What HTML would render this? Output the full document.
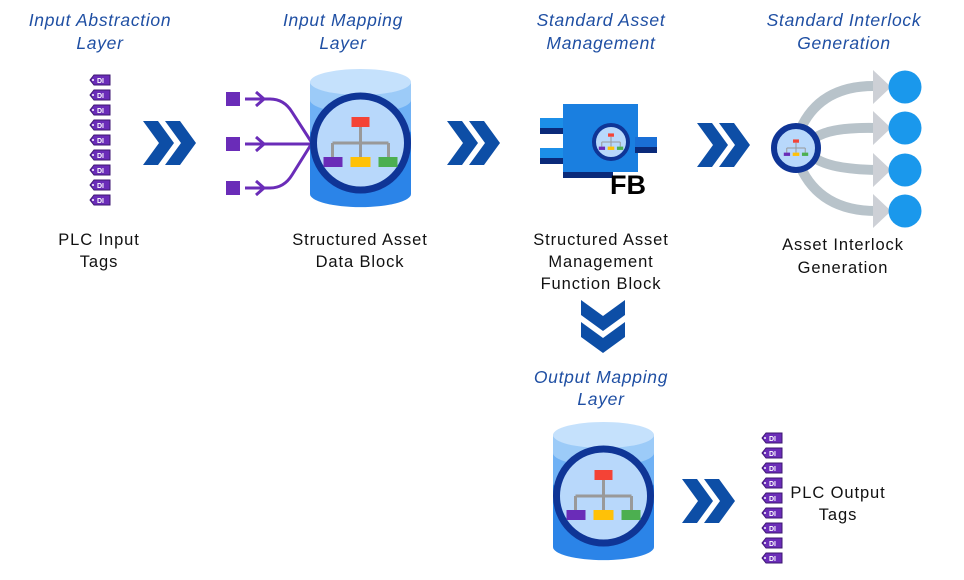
<!DOCTYPE html>
<html><head><meta charset="utf-8"><style>
body{margin:0;width:964px;height:580px;background:#fff;overflow:hidden}
svg{display:block}
.h{font-family:"Liberation Sans",sans-serif;font-style:italic;font-size:17.5px;letter-spacing:0.7px;fill:#1f4fa3;text-anchor:middle}
.l{font-family:"Liberation Sans",sans-serif;font-size:16.5px;letter-spacing:0.9px;fill:#111;text-anchor:middle}
.t{font-family:"Liberation Sans",sans-serif;font-size:7px;font-weight:bold;fill:#fff}
</style></head><body>
<svg width="964" height="580" viewBox="0 0 964 580">
<defs>
<g id="tag"><path d="M2,5 L6,0 H22 V10 H6 Z" fill="#6a2cb8" stroke="#3d1770" stroke-width="1"/><circle cx="5" cy="5" r="1" fill="#fff"/><text class="t" x="9" y="8">DI</text></g>
<g id="chev"><path d="M0,0 H15 L31,22 L15,44 H0 L16,22 Z" fill="#0d4ea6"/><path d="M22,0 H37 L53,22 L37,44 H22 L38,22 Z" fill="#0d4ea6"/></g>
<g id="tree">
<rect x="-9" y="-26" width="18" height="10" fill="#f44336"/>
<path d="M0,-16 V0 M-28,0 H28 M-28,0 V14 M0,0 V14 M28,0 V14" stroke="#999" stroke-width="3" fill="none"/>
<rect x="-37" y="14" width="19" height="10" fill="#6a2cb8"/><rect x="-10" y="14" width="20" height="10" fill="#ffc107"/><rect x="18" y="14" width="19" height="10" fill="#4caf50"/>
</g>
<g id="cyl">
<path d="M0,12 V124 A50,13 0 0 0 101,124 V12 Z" fill="#2b84e8"/>
<path d="M0,12 V60 A50,13 0 0 0 101,60 V12 Z" fill="#6fb1f5"/>
<path d="M0,12 V30 A50,13 0 0 0 101,30 V12 Z" fill="#9ccbf8"/>
<ellipse cx="50.5" cy="12" rx="50.5" ry="13" fill="#c5e1fc"/>
<circle cx="50.5" cy="73" r="47" fill="#b8d8fb" stroke="#0f3596" stroke-width="7"/>
<use href="#tree" x="50.5" y="73"/>
</g>
</defs>

<text class="h" x="100" y="26">Input Abstraction</text><text class="h" x="100" y="49">Layer</text>
<text class="h" x="343" y="26">Input Mapping</text><text class="h" x="343" y="49">Layer</text>
<text class="h" x="601" y="26">Standard Asset</text><text class="h" x="601" y="49">Management</text>
<text class="h" x="844" y="26">Standard Interlock</text><text class="h" x="844" y="49">Generation</text>
<text class="h" x="601" y="383">Output Mapping</text><text class="h" x="601" y="405">Layer</text>

<g>
<use href="#tag" x="88" y="75"/><use href="#tag" x="88" y="90"/><use href="#tag" x="88" y="105"/><use href="#tag" x="88" y="120"/><use href="#tag" x="88" y="135"/><use href="#tag" x="88" y="150"/><use href="#tag" x="88" y="165"/><use href="#tag" x="88" y="180"/><use href="#tag" x="88" y="195"/>
</g>
<use href="#chev" x="143" y="121"/>

<g fill="#6a2cb8"><rect x="226" y="92" width="14" height="14"/><rect x="226" y="137" width="14" height="14"/><rect x="226" y="181" width="14" height="14"/></g>
<g stroke="#6a2cb8" stroke-width="3" fill="none">
<path d="M245,99 H270 Q284,99 292,112 L312,143"/><path d="M245,144 H312"/><path d="M245,188 H270 Q284,188 292,175 L312,143"/>
<path d="M256,92 L264,99 L256,106 M256,137 L264,144 L256,151 M256,181 L264,188 L256,195"/>
</g>
<use href="#cyl" x="310" y="70"/>

<use href="#chev" x="447" y="121"/>

<g>
<rect x="540" y="118" width="30" height="10" fill="#1c8fe8"/><rect x="540" y="128" width="30" height="6" fill="#0a2a7a"/>
<rect x="540" y="148" width="30" height="10" fill="#1c8fe8"/><rect x="540" y="158" width="30" height="6" fill="#0a2a7a"/>
<rect x="563" y="104" width="75" height="68" fill="#1a7fe0"/><rect x="563" y="172" width="50" height="6" fill="#0a2a7a"/>
<rect x="635" y="137" width="22" height="10" fill="#1a6fd6"/><rect x="635" y="147" width="22" height="6" fill="#0a2a7a"/>
<circle cx="611" cy="142" r="17" fill="#b8d8fb" stroke="#0f3596" stroke-width="4"/>
<use href="#tree" transform="translate(611,142) scale(0.33)"/>
<text x="610" y="194" font-family="Liberation Sans,sans-serif" font-weight="bold" font-size="27" fill="#000">FB</text>
</g>

<use href="#chev" x="697" y="123"/>

<g stroke="#b8c3ca" stroke-width="10" fill="none">
<path d="M800,130 Q820,85 876,86"/><path d="M815,138 Q830,127 876,128"/><path d="M815,158 Q830,169 876,170"/><path d="M800,166 Q820,211 876,211"/>
</g>
<g fill="#cdd0d6"><path d="M873,70 L891,87 L873,104Z"/><path d="M873,111 L891,128 L873,145Z"/><path d="M873,153 L891,170 L873,187Z"/><path d="M873,194 L891,211 L873,228Z"/></g>
<g fill="#1a98ec"><circle cx="905" cy="87" r="16.5"/><circle cx="905" cy="128" r="16.5"/><circle cx="905" cy="170" r="16.5"/><circle cx="905" cy="211" r="16.5"/></g>
<circle cx="796" cy="148" r="22" fill="#b8d8fb" stroke="#0f3596" stroke-width="6"/>
<use href="#tree" transform="translate(796,148) scale(0.33)"/>

<text class="l" x="99" y="245">PLC Input</text><text class="l" x="99" y="267">Tags</text>
<text class="l" x="360" y="245">Structured Asset</text><text class="l" x="360" y="267">Data Block</text>
<text class="l" x="601" y="245">Structured Asset</text><text class="l" x="601" y="267">Management</text><text class="l" x="601" y="289">Function Block</text>
<text class="l" x="843" y="250">Asset Interlock</text><text class="l" x="843" y="273">Generation</text>

<g transform="translate(625,300) rotate(90)"><use href="#chev" x="0" y="0"/></g>

<use href="#cyl" x="553" y="423"/>
<use href="#chev" x="682" y="479"/>
<g>
<use href="#tag" x="760" y="433"/><use href="#tag" x="760" y="448"/><use href="#tag" x="760" y="463"/><use href="#tag" x="760" y="478"/><use href="#tag" x="760" y="493"/><use href="#tag" x="760" y="508"/><use href="#tag" x="760" y="523"/><use href="#tag" x="760" y="538"/><use href="#tag" x="760" y="553"/>
</g>
<text class="l" x="838" y="498">PLC Output</text><text class="l" x="838" y="520">Tags</text>
</svg>
</body></html>
